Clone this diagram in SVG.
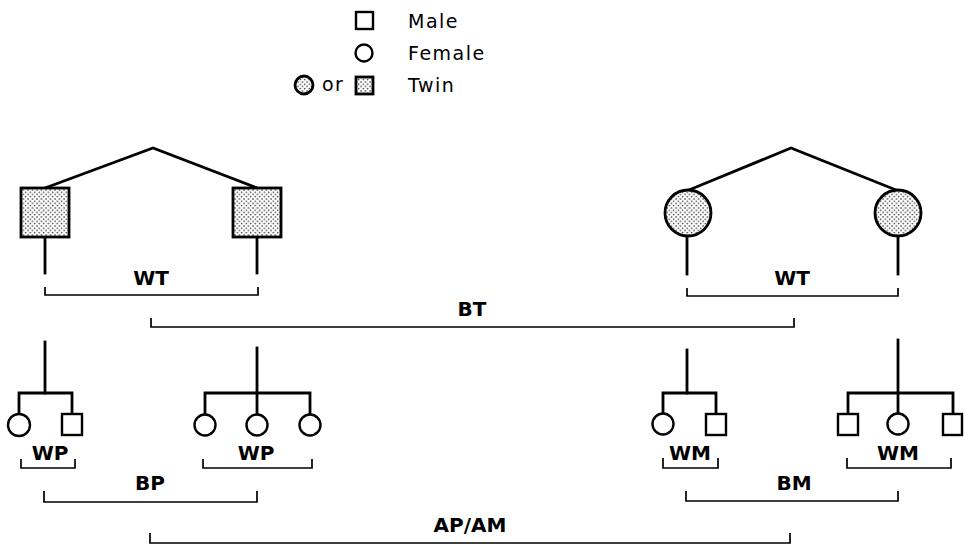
<svg xmlns="http://www.w3.org/2000/svg" width="964" height="546" viewBox="0 0 964 546">
<defs>
<pattern id="dots" width="4.5" height="4.5" patternUnits="userSpaceOnUse">
<rect width="4.5" height="4.5" fill="#fff"/>
<circle cx="1" cy="1" r="0.75" fill="#111"/>
<circle cx="3.25" cy="3.25" r="0.75" fill="#111"/>
</pattern>
<style>
.ln{stroke:#000;stroke-width:2.8;fill:none;stroke-linecap:square}
.br{stroke:#000;stroke-width:1.7;fill:none}
.sym{stroke:#000;stroke-width:2.4;fill:#fff}
.tw{stroke:#000;stroke-width:2.8;fill:url(#dots)}
.lb{font-family:"DejaVu Sans",sans-serif;font-size:20px;font-weight:bold;text-anchor:middle;fill:#000}
.lg{font-family:"DejaVu Sans",sans-serif;font-size:19px;letter-spacing:1.5px;fill:#000}
</style>
</defs>
<rect width="964" height="546" fill="#fff"/>

<g id="legend">
<rect class="sym" x="356" y="12" width="17" height="17" stroke-width="2.2"/>
<text class="lg" x="408" y="28">Male</text>
<circle class="sym" cx="364" cy="53" r="8.5" stroke-width="2.2"/>
<text class="lg" x="408" y="60">Female</text>
<circle class="tw" cx="304" cy="85" r="9" stroke-width="2.2"/>
<text class="lg" x="322" y="91" letter-spacing="0">or</text>
<rect class="tw" x="356" y="77" width="17" height="17" stroke-width="2.2"/>
<text class="lg" x="408" y="92">Twin</text>
</g>

<g id="connectors">
<polyline class="ln" points="45,188 153,148 257,188"/>
<line class="ln" x1="45" y1="237" x2="45" y2="273"/>
<line class="ln" x1="257" y1="237" x2="257" y2="273"/>
<polyline class="ln" points="689,190 791,148 896,190"/>
<line class="ln" x1="687" y1="236" x2="687" y2="274"/>
<line class="ln" x1="898" y1="236" x2="898" y2="274"/>
<line class="ln" x1="45" y1="342" x2="45" y2="393"/>
<polyline class="ln" points="19,414 19,393 72,393 72,414"/>
<line class="ln" x1="257" y1="348" x2="257" y2="414"/>
<polyline class="ln" points="205,414 205,393 310,393 310,414"/>
<line class="ln" x1="687" y1="350" x2="687" y2="393"/>
<polyline class="ln" points="663,414 663,393 716,393 716,414"/>
<line class="ln" x1="898" y1="340" x2="898" y2="414"/>
<polyline class="ln" points="848,414 848,393 953,393 953,414"/>
<polyline class="br" points="45,287 45,295 258,295 258,287"/>
<polyline class="br" points="687,288 687,296 898,296 898,288"/>
<polyline class="br" points="151,318 151,327 794,327 794,318"/>
<polyline class="br" points="21,459 21,468 75,468 75,459"/>
<polyline class="br" points="203,459 203,468 312,468 312,459"/>
<polyline class="br" points="44,491 44,502 257,502 257,491"/>
<polyline class="br" points="663,458 663,468 718,468 718,458"/>
<polyline class="br" points="847,458 847,468 951,468 951,458"/>
<polyline class="br" points="686,491 686,501 898,501 898,491"/>
<polyline class="br" points="150,533 150,543 790,543 790,533"/>
</g>

<g id="twin-m1"><rect class="tw" x="21" y="188" width="48" height="49"/></g>
<g id="twin-m2"><rect class="tw" x="233" y="188" width="48" height="49"/></g>
<g id="twin-f1"><circle class="tw" cx="688" cy="213" r="23"/></g>
<g id="twin-f2"><circle class="tw" cx="898" cy="213" r="23"/></g>

<g id="f1-c1"><circle class="sym" cx="19" cy="425" r="11"/></g>
<g id="f1-c2"><rect class="sym" x="62" y="414" width="20" height="21"/></g>
<g id="f2-c1"><circle class="sym" cx="205" cy="425" r="10.5"/></g>
<g id="f2-c2"><circle class="sym" cx="257" cy="425" r="10.5"/></g>
<g id="f2-c3"><circle class="sym" cx="310" cy="425" r="10.5"/></g>
<g id="f3-c1"><circle class="sym" cx="663" cy="424" r="10.5"/></g>
<g id="f3-c2"><rect class="sym" x="706" y="414" width="20" height="21"/></g>
<g id="f4-c1"><rect class="sym" x="838" y="414" width="20" height="21"/></g>
<g id="f4-c2"><circle class="sym" cx="898" cy="424" r="10.5"/></g>
<g id="f4-c3"><rect class="sym" x="943" y="414" width="19" height="21"/></g>

<g id="labels">
<text class="lb" x="151" y="285">WT</text>
<text class="lb" x="792" y="285">WT</text>
<text class="lb" x="472" y="316">BT</text>
<text class="lb" x="50" y="460">WP</text>
<text class="lb" x="256" y="460">WP</text>
<text class="lb" x="150" y="490">BP</text>
<text class="lb" x="690" y="460">WM</text>
<text class="lb" x="898" y="460">WM</text>
<text class="lb" x="794" y="490">BM</text>
<text class="lb" x="470" y="532">AP/AM</text>
</g>
</svg>
